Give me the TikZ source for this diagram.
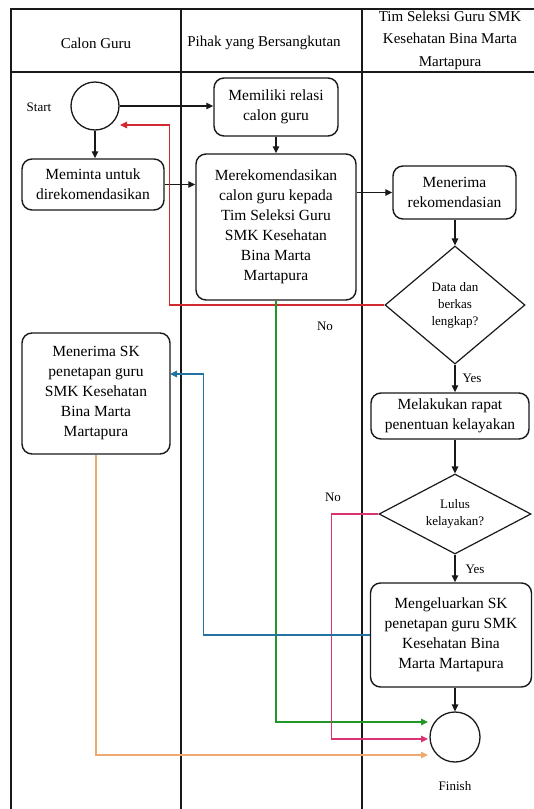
\documentclass[tikz,border=0pt]{standalone}
\usepackage{fontspec}
\setmainfont{Liberation Serif}
\usetikzlibrary{shapes.geometric,arrows.meta}
\definecolor{cred}{RGB}{210,40,48}
\definecolor{cgreen}{RGB}{35,150,40}
\definecolor{cpink}{RGB}{218,50,115}
\definecolor{corange}{RGB}{238,170,110}
\definecolor{cblue}{RGB}{35,115,160}
\definecolor{cline}{RGB}{25,25,25}
\begin{document}
\begin{tikzpicture}[x=1pt,y=-1pt,
  box/.style={draw=cline,line width=1.4pt,rounded corners=10pt,align=center,inner sep=0pt,font=\fontsize{15.5}{20}\selectfont},
  dia/.style={draw=cline,line width=1.2pt,diamond,inner sep=0pt},
  circ/.style={draw=cline,line width=1.3pt,circle,inner sep=0pt},
  lab/.style={font=\fontsize{13}{17}\selectfont,align=center,inner sep=0pt},
  head/.style={font=\fontsize{15}{22.5}\selectfont,align=center,inner sep=0pt},
  grid/.style={draw=cline,line width=1.3pt},
  arr/.style={draw=cline,line width=1.3pt,-{Triangle[length=7pt,width=6.5pt]}},
  carr/.style={line width=1.2pt,-{Triangle[length=7pt,width=6.5pt]}},
]
\useasboundingbox (0,0) rectangle (534,809);
% table
\draw[grid] (11,809) -- (11,9) -- (534,9);
\draw[grid] (11,72) -- (534,72);
\draw[grid] (181,9) -- (181,809);
\draw[grid] (362,9) -- (362,809);
\node[head] (h1) at (96,43) {Calon Guru};
\node[head] (h2) at (264,43) {Pihak yang Bersangkutan};
\node[head] (h3) at (450,40) {Tim Seleksi Guru SMK\\Kesehatan Bina Marta\\Martapura};
% nodes
\node[circ,minimum size=48pt] (start) at (95,106) {};
\node[lab] (startlbl) at (39,107) {Start};
\node[box,minimum width=124pt,minimum height=58pt] (memiliki) at (276,107) {Memiliki relasi\\calon guru};
\node[box,minimum width=142pt,minimum height=51pt] (meminta) at (93,184.5) {Meminta untuk\\direkomendasikan};
\node[box,minimum width=160pt,minimum height=146pt] (merek) at (276,227) {Merekomendasikan\\calon guru kepada\\Tim Seleksi Guru\\SMK Kesehatan\\Bina Marta\\Martapura};
\node[box,minimum width=123pt,minimum height=53pt] (menerima) at (454.5,192.5) {Menerima\\rekomendasian};
\node[dia,minimum width=140pt,minimum height=118pt] (d1) at (455,305) {};
\node[lab] (d1t) at (455,305) {Data dan\\berkas\\lengkap?};
\node[box,minimum width=148pt,minimum height=121pt] (menSK) at (96,393.5) {Menerima SK\\penetapan guru\\SMK Kesehatan\\Bina Marta\\Martapura};
\node[box,minimum width=158pt,minimum height=46pt] (rapat) at (450,416) {Melakukan rapat\\penentuan kelayakan};
\node[dia,minimum width=152pt,minimum height=80pt] (d2) at (455,514) {};
\node[lab] (d2t) at (455,514) {Lulus\\kelayakan?};
\node[box,minimum width=161pt,minimum height=104pt] (keluar) at (451,635) {Mengeluarkan SK\\penetapan guru SMK\\Kesehatan Bina\\Marta Martapura};
\node[circ,minimum size=50pt] (finish) at (455,737) {};
\node[lab] (finlbl) at (455,786) {Finish};
\node[lab] (no1) at (325,326) {No};
\node[lab] (no2) at (333,497) {No};
\node[lab] (yes1) at (472,378) {Yes};
\node[lab] (yes2) at (475,569) {Yes};
% end points
\coordinate (redend) at (120,125);
\coordinate (blueend) at (170,374);
\coordinate (greenend) at (428,722);
\coordinate (pinkend) at (428,739);
\coordinate (orangeend) at (428,755);
% black connectors
\draw[arr] (start.east) -- (start.east -| memiliki.west);
\draw[arr] (start.south) -- (start.south |- meminta.north);
\draw[arr] (memiliki.south) -- (merek.north);
\draw[arr] (meminta.east) -- (meminta.east -| merek.west);
\draw[arr] (menerima.west -| merek.east) -- (menerima.west);
\draw[arr] (d1.north |- menerima.south) -- (d1.north);
\draw[arr] (d1.south) -- (d1.south |- rapat.north);
\draw[arr] (d2.north |- rapat.south) -- (d2.north);
\draw[arr] (d2.south) -- (d2.south |- keluar.north);
\draw[arr] (finish.north |- keluar.south) -- (finish.north);
% coloured connectors
\draw[carr,cred] (d1.west) -- ++(-215,0) |- (redend);
\draw[carr,cgreen] (merek.south) |- (greenend);
\draw[carr,cpink] (d2.west) -- ++(-47,0) |- (pinkend);
\draw[carr,corange] (menSK.south) |- (orangeend);
\draw[carr,cblue] (keluar.west) -- ++(-166.5,0) |- (blueend);
\end{tikzpicture}
\end{document}
